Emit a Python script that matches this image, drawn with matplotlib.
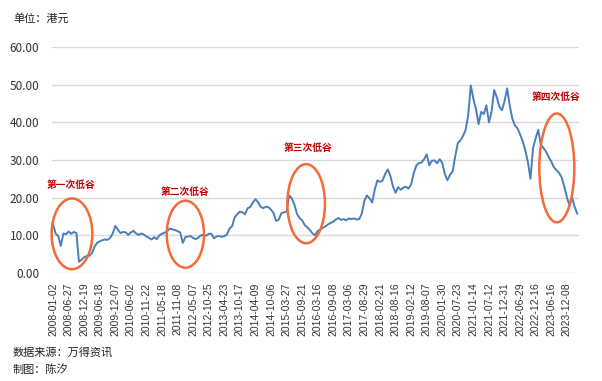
import numpy as np
import matplotlib
matplotlib.use("Agg")
import matplotlib.pyplot as plt
from matplotlib.patches import Ellipse

plt.rcParams['font.family'] = ['Noto Sans CJK SC', 'DejaVu Sans']

# ---- data ----
tick_dates = ["2008-01-02", "2008-06-27", "2008-12-19", "2009-06-18", "2009-12-07",
              "2010-06-02", "2010-11-22", "2011-05-18", "2011-11-08", "2012-05-07",
              "2012-10-25", "2013-04-23", "2013-10-17", "2014-04-09", "2014-10-06",
              "2015-03-27", "2015-09-21", "2016-03-16", "2016-09-08", "2017-03-06",
              "2017-08-29", "2018-02-21", "2018-08-16", "2019-02-12", "2019-08-07",
              "2020-01-30", "2020-07-23", "2021-01-14", "2021-07-12", "2021-12-31",
              "2022-06-29", "2022-12-16", "2023-06-16", "2023-12-08"]
days_per_tick = 120      # trading days between labelled dates
days_per_sample = 20     # trading days between price samples

prices = [13.0, 10.5, 9.8, 7.2, 10.5, 10.3, 11.0, 10.4, 10.9, 10.6,
          3.0, 3.5, 4.2, 4.5, 4.6, 5.2, 7.0, 8.0, 8.4, 8.7,
          8.9, 8.8, 9.3, 10.5, 12.5, 11.5, 10.6, 10.9, 10.8, 10.1,
          10.8, 11.2, 10.5, 10.1, 10.5, 10.2, 9.7, 9.3, 8.9, 9.5,
          9.0, 10.0, 10.4, 10.7, 11.1, 11.8, 11.6, 11.4, 11.1, 10.8,
          8.0, 9.5, 9.7, 9.8, 9.3, 9.0, 9.4, 10.0, 10.1, 9.9,
          10.4, 10.4, 9.2, 9.7, 9.8, 9.6, 9.8, 10.2, 11.8, 12.4,
          14.8, 15.6, 16.3, 16.1, 15.6, 17.2, 17.5, 18.7, 19.6, 18.8,
          17.6, 17.2, 17.6, 17.5, 16.8, 15.9, 13.8, 14.2, 15.9, 16.1,
          16.3, 20.6, 19.8, 18.2, 15.7, 14.6, 14.0, 12.7, 12.1, 11.4,
          10.5, 10.0, 11.2, 11.5, 12.0, 12.4, 12.9, 13.3, 13.6, 14.2,
          14.6, 14.1, 14.3, 14.0, 14.5, 14.3, 14.5, 14.2, 14.3, 15.8,
          19.2, 20.6, 19.8, 18.7, 22.2, 24.6, 24.2, 24.5, 26.3, 27.5,
          25.8, 23.0, 21.3, 22.8, 22.1, 22.7, 22.9, 22.4, 23.5, 26.5,
          28.5, 29.2, 29.3, 30.2, 31.5, 28.6, 29.8, 29.9, 29.1, 30.2,
          29.2, 26.3, 24.6, 26.1, 27.0, 31.0, 34.5, 35.2, 36.4, 38.0,
          41.8, 49.8, 46.2, 43.5, 39.5, 42.8, 42.2, 44.5, 40.0, 42.8,
          48.6, 46.7, 44.2, 43.2, 45.6, 49.0, 44.5, 41.0, 39.2, 38.4,
          36.8, 35.0, 32.6, 29.5, 25.0, 33.2, 35.8, 38.0, 34.0, 33.2,
          32.2, 30.8, 29.6, 28.1, 27.3, 26.6, 25.4, 23.0, 20.2, 18.0,
          20.2, 17.6, 15.8]

y_ticks = [0, 10, 20, 30, 40, 50, 60]

# annotations: (label, label_x_day, label_y, ellipse_center_day, center_y, width_days, height)
valleys = [
    ("第一次低谷", 139, 23.4, 146, 10.4, 314, 18.8),
    ("第二次低谷", 1017, 21.6, 1020, 10.3, 287, 17.8),
    ("第三次低谷", 1965, 33.1, 1951, 18.4, 290, 21.0),
    ("第四次低谷", 3877, 46.8, 3883, 27.9, 270, 28.9),
]

# ---- figure ----
fig = plt.figure(figsize=(6.02, 3.81), dpi=100)
ax = fig.add_axes([52 / 602, 1 - 273 / 381, (579 - 52) / 602, (273 - 47) / 381])

x = np.arange(len(prices)) * days_per_sample
ax.plot(x, prices, color="#4A7EBB", lw=1.4, solid_joinstyle="round")

ax.set_ylim(0, 60)
ax.set_xlim(-8, 4054)
ax.set_yticks(y_ticks)
ax.set_yticklabels([f"{v:.2f}" for v in y_ticks], fontsize=8.5, color="#333333")
ax.set_xticks(np.arange(len(tick_dates)) * days_per_tick)
ax.set_xticklabels(tick_dates, rotation=90, fontsize=7.5, color="#333333",
                   family=["Liberation Sans", "DejaVu Sans"])
ax.tick_params(axis="both", length=0)
ax.tick_params(axis="y", pad=9)
ax.tick_params(axis="x", pad=7)
ax.grid(axis="y", color="#D9D9D9", lw=1.0)
ax.set_axisbelow(True)
for s in ax.spines.values():
    s.set_visible(False)

for label, lx, ly, cx, cy, w, h in valleys:
    ax.add_patch(Ellipse((cx, cy), w, h, fill=False, edgecolor="#F26B3A",
                         lw=1.8, clip_on=False, zorder=3))
    ax.text(lx, ly, label, color="#C00000", fontsize=7, fontweight="bold",
            ha="center", va="center")

fig.text(13 / 602, 1 - 18 / 381, "单位：港元", fontsize=8, color="#222222",
         ha="left", va="center")
fig.text(13 / 602, 1 - 352 / 381, "数据来源：万得资讯", fontsize=8, color="#222222",
         ha="left", va="center")
fig.text(13 / 602, 1 - 370 / 381, "制图：陈汐", fontsize=8, color="#222222",
         ha="left", va="center")

fig.savefig("out.png", dpi=100)
